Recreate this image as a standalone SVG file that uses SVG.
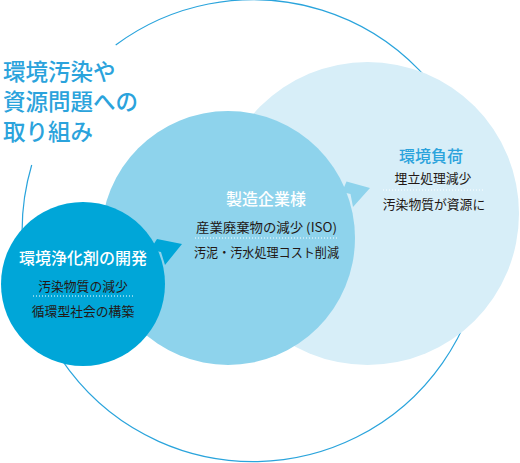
<svg xmlns="http://www.w3.org/2000/svg" width="520" height="463" viewBox="0 0 520 463">
<style>
.title{font-family:"Noto Sans CJK JP","Noto Sans",sans-serif;font-size:22.5px;font-weight:500;fill:#2ba3dc;}
.head{font-family:"Noto Sans CJK JP","Noto Sans",sans-serif;font-size:16px;font-weight:500;text-anchor:middle;}
.body{font-family:"Noto Sans CJK JP","Noto Sans",sans-serif;font-size:12.8px;fill:#231815;text-anchor:middle;}
.dots{stroke:#ffffff;stroke-width:1;stroke-dasharray:1 2;fill:none;}
</style>
<rect width="520" height="463" fill="#ffffff"/>
<g id="outline">
<path d="M115.7,45 A231,231 0 1 1 31.7,165" fill="none" stroke="#2aa4dc" stroke-width="1.2"/>
</g>
<g id="title">
<text class="title" x="3" y="80">環境汚染や</text>
<text class="title" x="3" y="110">資源問題への</text>
<text class="title" x="3" y="140">取り組み</text>
</g>
<g id="node-load">
<circle cx="367.5" cy="213.5" r="151.5" fill="#d7eef8"/>
<text class="head" x="431" y="162" fill="#2ba3dc">環境負荷</text>
<text class="body" x="433" y="183">埋立処理減少</text>
<line class="dots" x1="383" y1="190" x2="484" y2="190"/>
<text class="body" x="434" y="209">汚染物質が資源に</text>
</g>
<g id="node-maker">
<circle cx="228" cy="238" r="127" fill="#8ed3ec"/>
<text class="head" x="266" y="205" fill="#ffffff">製造企業様</text>
<text class="body" x="266.5" y="232" textLength="141" lengthAdjust="spacingAndGlyphs">産業廃棄物の減少 (ISO)</text>
<line class="dots" x1="195" y1="238" x2="337" y2="238"/>
<text class="body" x="266.5" y="257" textLength="145" lengthAdjust="spacingAndGlyphs">汚泥・汚水処理コスト削減</text>
</g>
<g id="node-dev">
<circle cx="83" cy="284" r="82" fill="#00a6d8"/>
<text class="head" x="83" y="264" fill="#ffffff">環境浄化剤の開発</text>
<text class="body" x="83" y="291">汚染物質の減少</text>
<line class="dots" x1="33" y1="296" x2="133" y2="296"/>
<text class="body" x="83" y="316">循環型社会の構築</text>
</g>
<g id="connectors">
<polygon points="157,239 182,244 165,265 161,252 150,250" fill="#00a6d8"/>
<polygon points="346.5,181.5 370,188 353,207 350.5,194 342,192" fill="#8ed3ec"/>
</g>
</svg>
